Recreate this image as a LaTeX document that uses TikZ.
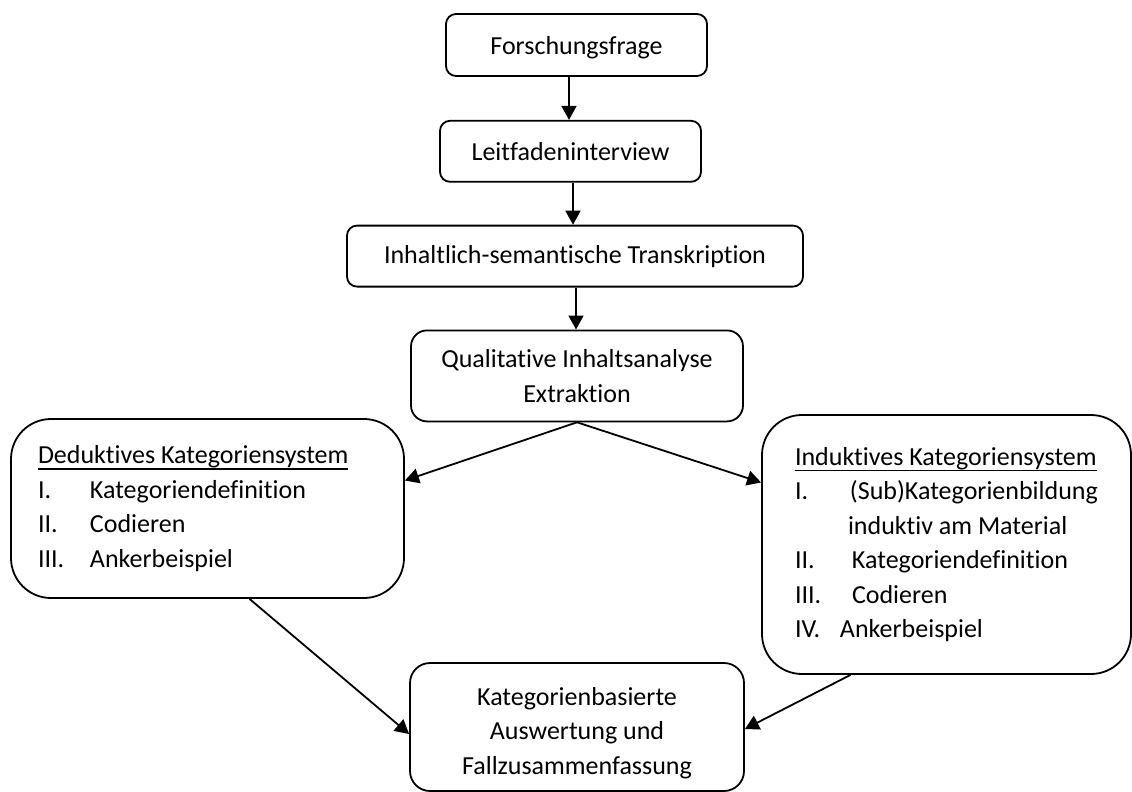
\documentclass[tikz,border=0pt]{standalone}
\usepackage{fontspec}
\setmainfont{Carlito}[Ligatures={NoCommon,NoContextual}]
\usetikzlibrary{arrows.meta,positioning}

\newsavebox{\headbox}
\newcommand{\ulhead}[1]{\sbox\headbox{#1}\rlap{\rule[-6pt]{\wd\headbox}{1.4pt}}\usebox\headbox}
\newcommand{\romnum}[2][52pt]{\makebox[#1][l]{#2}}

\begin{document}
\begin{tikzpicture}[x=1pt, y=-1pt,
  stepbox/.style={draw, line width=1.8pt, rounded corners=10pt, align=center,
    font=\fontsize{26}{34.5}\selectfont, inner sep=0pt},
  listbox/.style={stepbox, rounded corners=40pt, align=flush left},
  arr/.style={-{Triangle[length=14pt,width=15pt]}, line width=1.8pt}
]
  \useasboundingbox (0,0) rectangle (1132,792);

  \node[stepbox, minimum width=261pt, minimum height=62pt] (frage) at (576.5,45) {\rule{0pt}{23pt}Forschungsfrage};
  \node[stepbox, minimum width=261pt, minimum height=61pt, below=43pt of frage, xshift=-6pt] (leit) {Leitfadeninterview};
  \node[stepbox, minimum width=456pt, minimum height=61pt, below=42pt of leit, xshift=4.5pt] (trans) {Inhaltlich-semantische Transkription};
  \node[stepbox, rounded corners=16pt, minimum width=332pt, minimum height=91pt, below=42pt of trans, xshift=2pt] (qual) {Qualitative Inhaltsanalyse\\Extraktion};

  \node[listbox, text width=339pt, inner xsep=27pt, minimum height=179pt] (ded) at (207.5,508.5)
    {\ulhead{Deduktives Kategoriensystem}\\
     \romnum{I.}Kategoriendefinition\\
     \romnum{II.}Codieren\\
     \romnum{III.}Ankerbeispiel};
  \node[listbox, text width=303pt, inner xsep=33pt, minimum height=259pt] (ind) at (946.5,544.5)
    {\ulhead{Induktives Kategoriensystem}\\
     \romnum[55pt]{I.}(Sub)Kategorienbildung\\
     \hspace*{53pt}induktiv am Material\\
     \romnum[57pt]{II.}Kategoriendefinition\\
     \romnum[57pt]{III.}Codieren\\
     \romnum[45pt]{IV.}Ankerbeispiel};

  \node[stepbox, rounded corners=20pt, minimum width=334pt, minimum height=128pt] (res) at (577,727)
    {\rule{0pt}{30pt}Kategorienbasierte\\Auswertung und\\Fallzusammenfassung};

  % main chain
  \draw[arr] ([xshift=-7.5pt]frage.south) -- ([xshift=-1.5pt]leit.north);
  \draw[arr] ([xshift=2.5pt]leit.south) -- ([xshift=-2pt]trans.north);
  \draw[arr] ([xshift=1pt]trans.south) -- ([xshift=-1pt]qual.north);

  % split and merge
  \draw[arr] (qual.south) -- ([yshift=28pt]ded.east);
  \draw[arr] (qual.south) -- ([yshift=62pt]ind.west);
  \draw[arr] ([xshift=42pt]ded.south) -- ([yshift=-7pt]res.west);
  \draw[arr] ([xshift=-96pt]ind.south) -- ([yshift=-2pt]res.east);
\end{tikzpicture}
\end{document}
